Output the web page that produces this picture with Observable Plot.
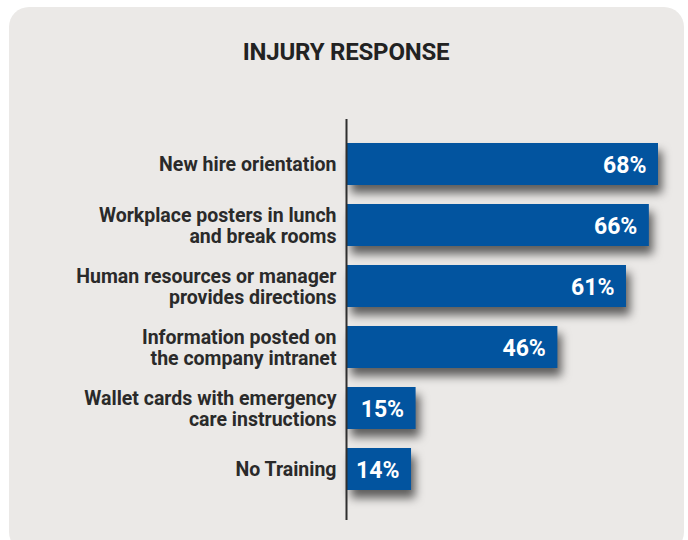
<!DOCTYPE html>
<html>
<head>
<meta charset="utf-8">
<script src="https://cdn.jsdelivr.net/npm/d3@7"></script>
<script src="https://cdn.jsdelivr.net/npm/@observablehq/plot@0.6"></script>
<style>
  html, body { margin: 0; padding: 0; background: #ffffff; width: 688px; height: 540px; overflow: hidden; }
  #panel { position: absolute; left: 9px; top: 7px; width: 675px; height: 545px; border-radius: 20px; background: #ebe9e7; }
  #title { position: absolute; left: 0; top: 40px; width: 692px; text-align: center; font-family: Roboto, "Noto Sans", sans-serif; font-weight: bold; font-size: 24px; color: #222222; line-height: 1; letter-spacing: -0.2px; }
  #chart { position: absolute; left: 0; top: 0; }
</style>
</head>
<body>
<div id="panel"></div>
<div id="title">INJURY RESPONSE</div>
<div id="chart"></div>
<script>
const categories = [
  "New hire orientation",
  "Workplace posters in lunch\nand break rooms",
  "Human resources or manager\nprovides directions",
  "Information posted on\nthe company intranet",
  "Wallet cards with emergency\ncare instructions",
  "No Training"
];
const values = [68, 66, 61, 46, 15, 14];
const valueLabels = ["68%", "66%", "61%", "46%", "15%", "14%"];

const data = categories.map((c, i) => ({category: c, value: values[i], label: valueLabels[i]}));

const chart = Plot.plot({
  width: 688,
  height: 540,
  marginLeft: 347,
  marginRight: 30,
  marginTop: 119,
  marginBottom: 20,
  style: {background: "transparent", overflow: "visible"},
  x: {domain: [0, 68], axis: null},
  y: {domain: categories, paddingInner: 0.307, paddingOuter: 0.42, align: 0.44, label: null},
  marks: [
    Plot.barX(data, {x: "value", y: "category", fill: "#02549f"}),
    Plot.text(data, {
      x: "value", y: "category", text: "label",
      textAnchor: "end", dx: -12, dy: 1,
      fill: "white", fontSize: 23, fontWeight: "bold",
      fontFamily: "Roboto, 'Noto Sans', sans-serif"
    }),
    Plot.axisY({
      tickSize: 0, tickPadding: 11, label: null,
      fontSize: 19.5, fontWeight: "bold", lineHeight: 1.1,
      fill: "#2a2a2a",
      fontFamily: "Roboto, 'Noto Sans', sans-serif"
    }),
    Plot.ruleX([0], {stroke: "#2f2f2f", strokeWidth: 2, dx: -1})
  ]
});

d3.select(chart).selectAll('g[aria-label="bar"]')
  .style("filter", "drop-shadow(4px 8px 5px rgba(0,0,0,0.6))");

document.getElementById("chart").appendChild(chart);
</script>
</body>
</html>
